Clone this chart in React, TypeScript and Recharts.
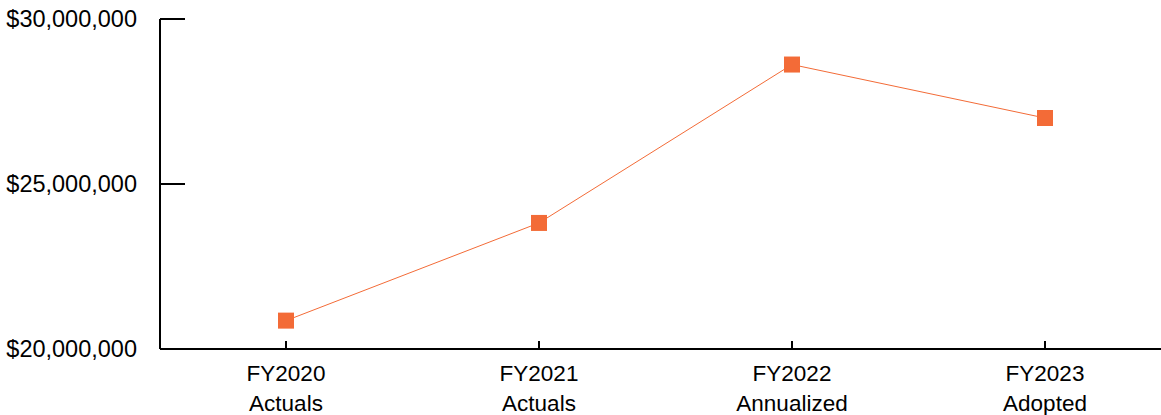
import React from "react";
import { LineChart, Line, XAxis, YAxis } from "recharts";

const fiscalYears = ["FY2020", "FY2021", "FY2022", "FY2023"];
const statuses = ["Actuals", "Actuals", "Annualized", "Adopted"];
const amounts = [20860000, 23820000, 28620000, 27000000];
const yTicks = [20000000, 25000000, 30000000];

const data = fiscalYears.map((fy, i) => ({ year: fy, status: statuses[i], amount: amounts[i] }));

const ORANGE = "#F36B37";
const FONT = "'Liberation Sans', Arial, sans-serif";
const fmt = (v: number) => "$" + v.toLocaleString("en-US");

const YTick = (props: any) => {
  const { x, y, payload } = props;
  return (
    <g>
      <line x1={x + 23} x2={x + 48} y1={y} y2={y} stroke="#000" strokeWidth={2} />
      <text x={x} y={y} dy={8} textAnchor="end" fontSize={23.5} fontFamily={FONT} fill="#000">
        {fmt(payload.value)}
      </text>
    </g>
  );
};

const XTick = (props: any) => {
  const { x, y, payload, index } = props;
  return (
    <g>
      <line x1={x} x2={x} y1={y} y2={y - 8} stroke="#000" strokeWidth={2} />
      <text x={x} y={y + 32} textAnchor="middle" fontSize={22.5} fontFamily={FONT} fill="#000">
        {payload.value}
      </text>
      <text x={x} y={y + 62} textAnchor="middle" fontSize={22.5} fontFamily={FONT} fill="#000">
        {statuses[index]}
      </text>
    </g>
  );
};

const SquareDot = (props: any) => {
  const { cx, cy, index } = props;
  return <rect key={index} x={cx - 8} y={cy - 8} width={16} height={16} fill={ORANGE} />;
};

export default function App() {
  return (
    <div style={{ position: "absolute", left: 0, top: 0, width: 1161, height: 415, overflow: "hidden", background: "#fff" }}>
      <LineChart width={1171} height={415} data={data} margin={{ top: 19, right: 0, bottom: 0, left: 0 }}>
        <XAxis
          dataKey="year"
          height={66}
          tickLine={false}
          tickSize={0}
          tickMargin={0}
          padding={{ left: 126, right: 126 }}
          axisLine={{ stroke: "#000", strokeWidth: 2 }}
          tick={<XTick />}
          interval={0}
        />
        <YAxis
          width={160}
          domain={[20000000, 30000000]}
          ticks={yTicks}
          tickLine={false}
          tickSize={0}
          tickMargin={23}
          axisLine={{ stroke: "#000", strokeWidth: 2 }}
          tick={<YTick />}
          interval={0}
        />
        <Line
          dataKey="amount"
          stroke={ORANGE}
          strokeWidth={1}
          dot={<SquareDot />}
          activeDot={false}
          isAnimationActive={false}
        />
      </LineChart>
    </div>
  );
}
